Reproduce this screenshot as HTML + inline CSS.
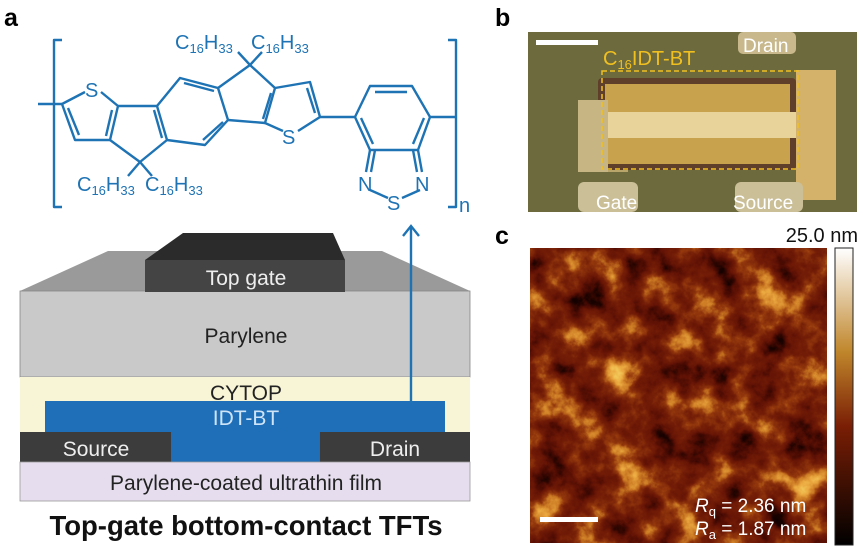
<!DOCTYPE html>
<html><head><meta charset="utf-8"><style>
html,body{margin:0;padding:0;background:#fff}
svg{display:block;font-family:"Liberation Sans",Arial,sans-serif}
</style></head><body>
<svg width="863" height="554" viewBox="0 0 863 554" xmlns="http://www.w3.org/2000/svg">
<defs>
<filter id="afm" x="0" y="0" width="100%" height="100%" color-interpolation-filters="sRGB">
<feTurbulence type="fractalNoise" baseFrequency="0.028" numOctaves="5" seed="7" result="n"/>
<feColorMatrix in="n" type="matrix" values="1 0 0 0 0  1 0 0 0 0  1 0 0 0 0  0 0 0 0 1" result="g"/>
<feComponentTransfer in="g">
<feFuncR type="table" tableValues="0.05 0.05 0.1 0.28 0.4 0.46 0.58 0.8 0.92 0.95 0.95"/>
<feFuncG type="table" tableValues="0 0 0.01 0.04 0.08 0.12 0.22 0.48 0.66 0.78 0.8"/>
<feFuncB type="table" tableValues="0 0 0 0.01 0.02 0.03 0.05 0.14 0.25 0.35 0.4"/>
</feComponentTransfer>
</filter>
<linearGradient id="cb" x1="0" y1="1" x2="0" y2="0">
<stop offset="0" stop-color="#000"/><stop offset="0.4" stop-color="#7a1e05"/>
<stop offset="0.65" stop-color="#c0862b"/><stop offset="1" stop-color="#fff"/>
</linearGradient>
</defs>
<rect width="863" height="554" fill="#fff"/>

<text x="4" y="26" font-size="25" font-weight="bold">a</text>
<text x="495" y="26" font-size="25" font-weight="bold">b</text>
<text x="495" y="244" font-size="25" font-weight="bold">c</text>

<g stroke="#1e73b4" stroke-width="2.4" fill="none" stroke-linejoin="round">
<path d="M62 40 H54 V207 H62"/>
<path d="M448 40 H456 V207 H448"/>
<path d="M38 104 H62"/>
<path d="M62 104 L85 92 M101 92 L118 106 L110 140 L75 140 L62 104"/>
<path d="M68 108 L79 135"/>
<path d="M112 110 L106 136"/>
<path d="M118 106 L157 106 L167 140 L140 162 L110 140"/>
<path d="M140 162 L128 176 M140 162 L152 176"/>
<path d="M157 106 L180 78 L218 88 L228 120 L205 145 L167 140"/>
<path d="M162 138 L154 110"/>
<path d="M184 83 L214 91"/>
<path d="M223 122 L203 140"/>
<path d="M218 88 L250 65 L275 88 L265 123 L228 120"/>
<path d="M250 65 L238 52 M250 65 L262 52"/>
<path d="M275 88 L310 82 L320 117 L298 131 M283 131 L265 123"/>
<path d="M271 93 L263 119"/>
<path d="M307 88 L315 113"/>
<path d="M320 117 L355 117"/>
<path d="M355 117 L370 86 L412 86 L430 117 L418 150 L370 150 Z"/>
<path d="M375 92 L407 92"/>
<path d="M361 118 L373 144"/>
<path d="M424 118 L413 144"/>
<path d="M430 117 L455 117"/>
<path d="M370 150 L366 172 M375 150 L371 172"/>
<path d="M418 150 L422 172 M413 150 L417 172"/>
<path d="M370 190 L388 198 M420 190 L402 198"/>
</g>
<g fill="#1e73b4" font-size="20">
<text x="85" y="97">S</text>
<text x="282" y="144">S</text>
<text x="358" y="191">N</text>
<text x="415" y="191">N</text>
<text x="387" y="210">S</text>
<text x="459" y="212">n</text>
<text x="175" y="49">C<tspan font-size="13" dy="4">16</tspan><tspan dy="-4">H</tspan><tspan font-size="13" dy="4">33</tspan></text>
<text x="251" y="49">C<tspan font-size="13" dy="4">16</tspan><tspan dy="-4">H</tspan><tspan font-size="13" dy="4">33</tspan></text>
<text x="77" y="191">C<tspan font-size="13" dy="4">16</tspan><tspan dy="-4">H</tspan><tspan font-size="13" dy="4">33</tspan></text>
<text x="145" y="191">C<tspan font-size="13" dy="4">16</tspan><tspan dy="-4">H</tspan><tspan font-size="13" dy="4">33</tspan></text>
</g>

<polygon points="108,251 382,251 470,291 20,291" fill="#9a9a9a"/>
<rect x="20" y="291" width="450" height="86" fill="#c9c9c9" stroke="#888" stroke-width="0.8"/>
<polygon points="183,233 333,233 345,260 145,260" fill="#2b2b2b"/>
<rect x="145" y="260" width="200" height="32" fill="#444"/>
<rect x="20" y="377" width="450" height="56" fill="#f8f5d6"/>
<rect x="20" y="432" width="151" height="30" fill="#3c3c3c"/>
<rect x="320" y="432" width="150" height="30" fill="#3c3c3c"/>
<path d="M45 401 H445 V432 H320 V462 H171 V432 H45 Z" fill="#1f6fb8"/>
<rect x="20" y="462" width="450" height="39" fill="#e6deef" stroke="#999" stroke-width="0.8"/>
<g font-size="21" text-anchor="middle">
<text x="246" y="285" fill="#eee">Top gate</text>
<text x="246" y="343" fill="#222">Parylene</text>
<text x="246" y="400" fill="#222">CYTOP</text>
<text x="246" y="425" fill="#cfe4f7">IDT-BT</text>
<text x="96" y="456" fill="#eee">Source</text>
<text x="395" y="456" fill="#eee">Drain</text>
<text x="246" y="490" fill="#222">Parylene-coated ultrathin film</text>
<text x="246" y="535" font-size="27.5" font-weight="bold" fill="#111">Top-gate bottom-contact TFTs</text>
</g>
<g stroke="#1e73b4" stroke-width="2.4" fill="none">
<path d="M411 403 V226"/>
<path d="M403 236 L411 226 L419 236"/>
</g>

<rect x="528" y="32" width="329" height="180" fill="#6d6a3e"/>
<rect x="578" y="100" width="90" height="60" fill="#d8c18a" rx="4"/>
<rect x="590" y="152" width="38" height="20" fill="#b9a46a"/>
<rect x="598" y="78" width="198" height="92" fill="#5f3e2a" rx="4"/>
<rect x="605" y="84" width="185" height="80" fill="#c9a24e"/>
<rect x="605" y="112" width="195" height="26" fill="#e8d49a"/>
<rect x="578" y="100" width="30" height="72" fill="#c8b584"/>
<rect x="796" y="70" width="40" height="130" fill="#d4b26a"/>
<rect x="738" y="32" width="58" height="22" fill="#c8b88c" rx="5"/>
<rect x="578" y="182" width="60" height="30" fill="#cbbf98" rx="6"/>
<rect x="735" y="182" width="68" height="30" fill="#cbbf98" rx="6"/>
<rect x="602" y="71" width="196" height="98" fill="none" stroke="#f0c020" stroke-width="1.5" stroke-dasharray="5,3"/>
<rect x="536" y="40" width="62" height="5" fill="#fff"/>
<text x="603" y="65" font-size="20" fill="#f0c020">C<tspan font-size="13" dy="4">16</tspan><tspan dy="-4">IDT-BT</tspan></text>
<text x="743" y="52" font-size="19" fill="#fff">Drain</text>
<text x="596" y="209" font-size="19" fill="#fff">Gate</text>
<text x="733" y="209" font-size="19" fill="#fff">Source</text>

<rect x="530" y="248" width="297" height="295" fill="#6b1a05"/>
<rect x="530" y="248" width="297" height="295" filter="url(#afm)"/>
<rect x="540" y="517" width="58" height="5" fill="#fff"/>
<g fill="#fff" font-size="19">
<text x="695" y="512"><tspan font-style="italic">R</tspan><tspan font-size="13" dy="4">q</tspan><tspan dy="-4"> = 2.36 nm</tspan></text>
<text x="695" y="535"><tspan font-style="italic">R</tspan><tspan font-size="13" dy="4">a</tspan><tspan dy="-4"> = 1.87 nm</tspan></text>
</g>
<rect x="835" y="248" width="18" height="297" fill="url(#cb)" stroke="#222" stroke-width="1"/>
<text x="858" y="242" font-size="20" text-anchor="end" fill="#111">25.0 nm</text>
</svg>
</body></html>
